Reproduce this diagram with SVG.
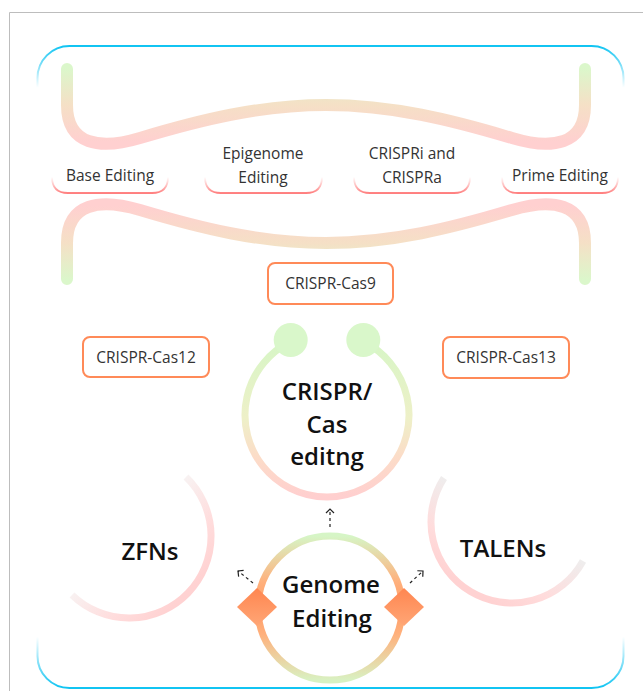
<svg xmlns="http://www.w3.org/2000/svg" width="643" height="691" viewBox="0 0 643 691">
<style>
.lbl{font-family:"Open Sans","Liberation Sans",sans-serif;font-size:15.5px;fill:#333;text-anchor:middle}
.big{font-family:"Open Sans","Liberation Sans",sans-serif;font-size:24px;font-weight:600;fill:#111;text-anchor:middle}
.box{fill:#fff;stroke:#ff8a58;stroke-width:2}
.cap{fill:none;stroke:url(#capG);stroke-width:1.8}
.arr{fill:none;stroke:#222;stroke-width:1.2;stroke-dasharray:3 3;marker-end:url(#chev)}
</style>
<defs>
<linearGradient id="blueG" x1="0" y1="0" x2="0" y2="1">
<stop offset="0" stop-color="#10c4f2"/>
<stop offset="0.065" stop-color="#10c4f2" stop-opacity="0"/>
<stop offset="0.92" stop-color="#10c4f2" stop-opacity="0"/>
<stop offset="1" stop-color="#10c4f2"/>
</linearGradient>
<linearGradient id="waveG" gradientUnits="userSpaceOnUse" x1="0" y1="68" x2="0" y2="142">
<stop offset="0" stop-color="#dbf7cb"/>
<stop offset="0.5" stop-color="#f5e0c6"/>
<stop offset="1" stop-color="#ffd0d0"/>
</linearGradient>
<linearGradient id="capG" x1="0" y1="0" x2="0" y2="1">
<stop offset="0" stop-color="#ff9090" stop-opacity="0"/>
<stop offset="1" stop-color="#ff7f7f"/>
</linearGradient>
<linearGradient id="casG" gradientUnits="userSpaceOnUse" x1="0" y1="340" x2="0" y2="497">
<stop offset="0" stop-color="#d6f6c6"/>
<stop offset="0.5" stop-color="#eef0c8"/>
<stop offset="0.75" stop-color="#fcdcc8"/>
<stop offset="1" stop-color="#ffcfcf"/>
</linearGradient>
<linearGradient id="genG" gradientUnits="userSpaceOnUse" x1="0" y1="536" x2="0" y2="680">
<stop offset="0" stop-color="#d6f5c6"/>
<stop offset="0.32" stop-color="#ffb07c"/>
<stop offset="0.5" stop-color="#ff9c66"/>
<stop offset="0.68" stop-color="#ffb07c"/>
<stop offset="1" stop-color="#d9f1c2"/>
</linearGradient>
<linearGradient id="diaG" x1="0" y1="0" x2="0" y2="1">
<stop offset="0" stop-color="#ff8650"/>
<stop offset="1" stop-color="#ffa676"/>
</linearGradient>
<linearGradient id="zfnG" gradientUnits="userSpaceOnUse" x1="128" y1="535" x2="186" y2="593">
<stop offset="0" stop-color="#f8f2f2"/>
<stop offset="0.6" stop-color="#ffdcdc"/>
<stop offset="1" stop-color="#ffd2d2"/>
</linearGradient>
<linearGradient id="talG" gradientUnits="userSpaceOnUse" x1="513" y1="520" x2="471" y2="589">
<stop offset="0" stop-color="#efeded"/>
<stop offset="0.6" stop-color="#ffdcdc"/>
<stop offset="1" stop-color="#ffd2d2"/>
</linearGradient>
<marker id="chev" viewBox="-6 -6 12 12" markerWidth="12" markerHeight="12" markerUnits="userSpaceOnUse" orient="auto" refX="0" refY="0">
<path d="M-4,-4 L0,0 L-4,4" fill="none" stroke="#222" stroke-width="1.2"/>
</marker>
</defs>
<rect width="643" height="691" fill="#fff"/>
<path d="M9.5,691 V12.5 H643" fill="none" stroke="#bdbdbd" stroke-width="1"/>
<rect x="37.5" y="46" width="586" height="642" rx="32" fill="none" stroke="url(#blueG)" stroke-width="2"/>

<g id="wave-top">
<path d="M67,69 V105 C67,145 100,150 140,138 C200,120 260,105 326,105 C392,105 452,120 512,138 C552,150 585,145 585,105 V69" fill="none" stroke="url(#waveG)" stroke-width="12" stroke-linecap="round"/>
</g>
<g id="wave-bottom" transform="translate(0,348) scale(1,-1)">
<path d="M67,69 V105 C67,145 100,150 140,138 C200,120 260,105 326,105 C392,105 452,120 512,138 C552,150 585,145 585,105 V69" fill="none" stroke="url(#waveG)" stroke-width="12" stroke-linecap="round"/>
</g>

<g id="base-editing">
<path class="cap" d="M52,177 Q52,193 68,193 H152 Q168,193 168,177"/>
<text class="lbl" x="110" y="181">Base Editing</text>
</g>
<g id="epigenome-editing">
<path class="cap" d="M205,177 Q205,193 221,193 H306 Q322,193 322,177"/>
<text class="lbl" x="263" y="159">Epigenome</text>
<text class="lbl" x="263" y="183">Editing</text>
</g>
<g id="crispri-crispra">
<path class="cap" d="M354,177 Q354,193 370,193 H454 Q470,193 470,177"/>
<text class="lbl" x="412" y="159">CRISPRi and</text>
<text class="lbl" x="412" y="183">CRISPRa</text>
</g>
<g id="prime-editing">
<path class="cap" d="M502,177 Q502,193 518,193 H602 Q618,193 618,177"/>
<text class="lbl" x="560" y="181">Prime Editing</text>
</g>

<g id="crispr-cas9">
<rect class="box" x="268" y="263" width="125" height="41" rx="7"/>
<text class="lbl" x="330.5" y="289">CRISPR-Cas9</text>
</g>
<g id="crispr-cas12">
<rect class="box" x="83" y="337" width="126" height="40" rx="7"/>
<text class="lbl" x="146" y="363">CRISPR-Cas12</text>
</g>
<g id="crispr-cas13">
<rect class="box" x="443" y="337" width="126" height="41" rx="7"/>
<text class="lbl" x="506" y="363">CRISPR-Cas13</text>
</g>

<g id="crispr-cas-editing">
<path d="M290.7,341.5 A82,82 0 1 0 363.3,341.5" fill="none" stroke="url(#casG)" stroke-width="7"/>
<circle cx="290.7" cy="340" r="17" fill="#d9f7ca"/>
<circle cx="363.3" cy="340" r="17" fill="#d9f7ca"/>
<text class="big" x="327" y="400">CRISPR/</text>
<text class="big" x="327" y="433">Cas</text>
<text class="big" x="327" y="465">editng</text>
</g>

<g id="zfns">
<path d="M186,477 A82,82 0 0 1 72,595" fill="none" stroke="url(#zfnG)" stroke-width="7"/>
<text class="big" x="150" y="560">ZFNs</text>
</g>
<g id="talens">
<path d="M444,478 A81,81 0 1 0 583,561" fill="none" stroke="url(#talG)" stroke-width="7"/>
<text class="big" x="503" y="557">TALENs</text>
</g>

<g id="genome-editing">
<circle cx="330" cy="608" r="72" fill="none" stroke="url(#genG)" stroke-width="7"/>
<polygon points="237,607 257,588 277,607 257,626" fill="url(#diaG)"/>
<polygon points="384,607 404,588 424,607 404,626" fill="url(#diaG)"/>
<text class="big" x="331" y="593">Genome</text>
<text class="big" x="332" y="627">Editing</text>
</g>

<g id="connectors">
<line class="arr" x1="330" y1="527" x2="330" y2="509"/>
<line class="arr" x1="253" y1="583" x2="238" y2="571"/>
<line class="arr" x1="410" y1="583" x2="423" y2="571"/>
</g>
</svg>
